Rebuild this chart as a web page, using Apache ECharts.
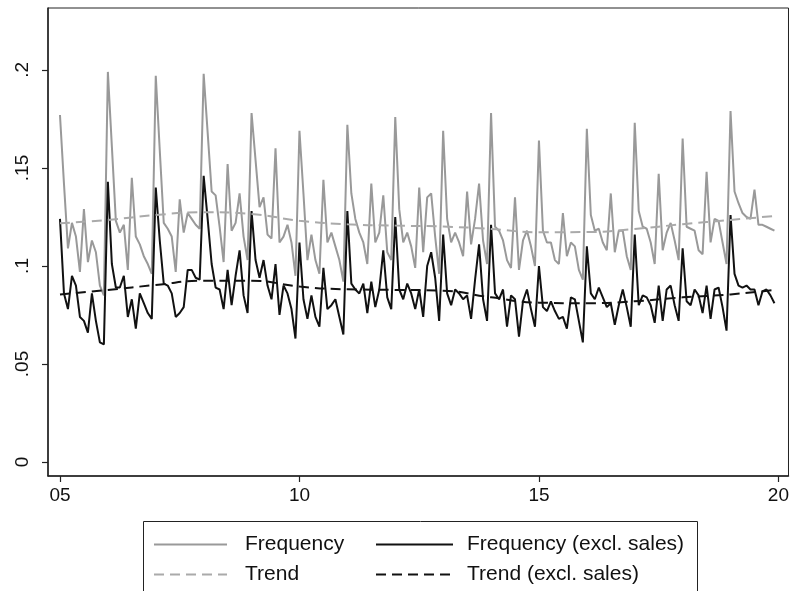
<!DOCTYPE html>
<html>
<head>
<meta charset="utf-8">
<script src="https://cdn.jsdelivr.net/npm/echarts@6/dist/echarts.min.js"></script>
<style>html,body{margin:0;padding:0;background:#fff}#c{width:792px;height:591px}</style>
</head>
<body>
<div id="c"></div>
<script>
// Monthly data, Jan 2005 .. Dec 2019
const startYear = 2005;
const frequency = [
0.177,0.142,0.109,0.122,0.115,0.097,0.129,0.102,0.113,0.107,0.090,0.085,
0.199,0.161,0.123,0.117,0.121,0.098,0.145,0.115,0.111,0.105,0.101,0.096,
0.197,0.159,0.122,0.119,0.115,0.097,0.134,0.117,0.127,0.124,0.121,0.119,
0.198,0.168,0.138,0.136,0.120,0.102,0.152,0.118,0.122,0.137,0.115,0.103,
0.178,0.154,0.130,0.135,0.116,0.114,0.160,0.112,0.115,0.121,0.112,0.095,
0.169,0.137,0.103,0.116,0.103,0.096,0.144,0.112,0.117,0.110,0.103,0.092,
0.172,0.137,0.124,0.117,0.112,0.101,0.142,0.112,0.117,0.136,0.107,0.103,
0.176,0.129,0.112,0.117,0.110,0.099,0.140,0.107,0.135,0.137,0.115,0.096,
0.169,0.124,0.112,0.117,0.112,0.105,0.138,0.111,0.124,0.142,0.113,0.101,
0.178,0.120,0.118,0.113,0.103,0.099,0.135,0.098,0.113,0.118,0.110,0.100,
0.164,0.118,0.112,0.112,0.103,0.101,0.127,0.105,0.112,0.110,0.098,0.093,
0.170,0.126,0.118,0.119,0.112,0.108,0.137,0.107,0.118,0.118,0.105,0.098,
0.173,0.128,0.120,0.119,0.112,0.101,0.147,0.108,0.117,0.122,0.113,0.103,
0.165,0.120,0.119,0.118,0.108,0.106,0.148,0.112,0.124,0.123,0.112,0.101,
0.179,0.138,0.132,0.127,0.125,0.124,0.139,0.121,0.121,0.120,0.119,0.118
];
const frequencyExSales = [
0.124,0.086,0.078,0.095,0.090,0.074,0.072,0.066,0.086,0.072,0.061,0.060,
0.143,0.101,0.089,0.089,0.095,0.074,0.083,0.068,0.086,0.081,0.076,0.073,
0.140,0.113,0.091,0.090,0.086,0.074,0.076,0.079,0.098,0.098,0.094,0.093,
0.146,0.124,0.101,0.089,0.088,0.078,0.098,0.080,0.095,0.108,0.085,0.076,
0.128,0.103,0.094,0.103,0.090,0.083,0.101,0.075,0.090,0.086,0.078,0.063,
0.112,0.083,0.073,0.085,0.074,0.069,0.099,0.078,0.080,0.083,0.074,0.065,
0.128,0.091,0.088,0.086,0.091,0.076,0.092,0.079,0.088,0.108,0.084,0.078,
0.125,0.088,0.083,0.091,0.086,0.078,0.088,0.074,0.100,0.107,0.094,0.072,
0.116,0.086,0.080,0.088,0.086,0.083,0.085,0.073,0.093,0.111,0.083,0.072,
0.121,0.086,0.083,0.088,0.069,0.085,0.083,0.064,0.082,0.088,0.078,0.069,
0.100,0.079,0.077,0.082,0.077,0.073,0.074,0.068,0.084,0.083,0.072,0.061,
0.110,0.086,0.083,0.089,0.084,0.079,0.081,0.070,0.080,0.088,0.079,0.069,
0.116,0.080,0.085,0.084,0.080,0.071,0.090,0.072,0.088,0.090,0.080,0.072,
0.109,0.082,0.080,0.088,0.085,0.076,0.090,0.073,0.088,0.089,0.079,0.067,
0.126,0.096,0.090,0.089,0.090,0.088,0.088,0.080,0.087,0.088,0.085,0.081
];
// Trend values read at month index (0 = Jan 2005)
const trendMonths = [0,12,24,36,48,60,72,84,96,108,120,132,144,156,168,179];
const trend = [0.1218,0.1235,0.1260,0.1274,0.1265,0.1231,0.1213,0.1206,0.1201,0.1189,0.1172,0.1173,0.1189,0.1213,0.1235,0.1255];
const trendExSales = [0.0855,0.0878,0.0903,0.0925,0.0925,0.0895,0.0881,0.0878,0.0874,0.0840,0.0813,0.0810,0.0820,0.0840,0.0855,0.0878];
const xTicks = [2005,2010,2015,2020];
const yTicks = [0,0.05,0.1,0.15,0.2];

const toX = i => startYear + i/12;
const pairs = arr => arr.map((v,i)=>[toX(i), v]);
const tpairs = arr => arr.map((v,k)=>[toX(trendMonths[k]), v]);

const FONT = 'Liberation Sans';
const legendText = {fontFamily:FONT, fontSize:21, lineHeight:20, color:'#111'};
const chart = echarts.init(document.getElementById('c'), null, {renderer:'canvas'});
chart.setOption({
  animation:false,
  backgroundColor:'#fff',
  grid:{left:48, right:2, top:8, bottom:115, show:true, borderColor:'#222', borderWidth:1, backgroundColor:'transparent'},
  xAxis:{
    type:'value', min:2004.75, max:2020.21,
    axisLine:{show:true, onZero:false, lineStyle:{color:'#222', width:1.5}},
    axisTick:{show:true, length:6, lineStyle:{color:'#222', width:1.2}, customValues:xTicks},
    axisLabel:{customValues:xTicks, margin:10, fontFamily:FONT, fontSize:19, color:'#111',
      formatter:v=>String(Math.round(v)).slice(2)},
    splitLine:{show:false}
  },
  yAxis:{
    type:'value', min:-0.00714, max:0.2316,
    axisLine:{show:true, onZero:false, lineStyle:{color:'#222', width:1.5}},
    axisTick:{show:true, length:6, lineStyle:{color:'#222', width:1.2}, customValues:yTicks},
    axisLabel:{customValues:yTicks, rotate:90, margin:16, fontFamily:FONT, fontSize:19, color:'#111',
      formatter:v=>{ if (Math.abs(v)<1e-9) return '0'; return String(+v.toFixed(2)).replace(/^0/,''); }},
    splitLine:{show:false}
  },
  legend:[
    {orient:'vertical', left:148, top:529, height:90, itemWidth:73, itemHeight:14, itemGap:9,
     itemStyle:{opacity:0},
     data:['Frequency','Trend'], textStyle:Object.assign({padding:[0,0,0,13]}, legendText), selectedMode:false},
    {orient:'vertical', left:370, top:529, height:90, itemWidth:77, itemHeight:14, itemGap:9,
     itemStyle:{opacity:0},
     data:['Frequency (excl. sales)','Trend (excl. sales)'], textStyle:Object.assign({padding:[0,0,0,9]}, legendText), selectedMode:false}
  ],
  graphic:[{type:'rect', shape:{x:143.5, y:521.5, width:554, height:90}, style:{fill:'none', stroke:'#222', lineWidth:1}, silent:true}],
  series:[
    {name:'Frequency', type:'line', data:pairs(frequency), showSymbol:false, symbol:'none',
     lineStyle:{color:'#999', width:2}, itemStyle:{color:'#999'}, z:2},
    {name:'Frequency (excl. sales)', type:'line', data:pairs(frequencyExSales), showSymbol:false, symbol:'none',
     lineStyle:{color:'#111', width:2}, itemStyle:{color:'#111'}, z:3},
    {name:'Trend', type:'line', data:tpairs(trend), smooth:true, showSymbol:false, symbol:'none',
     lineStyle:{color:'#aaa', width:2, type:[10,6]}, itemStyle:{color:'#aaa'}, z:4},
    {name:'Trend (excl. sales)', type:'line', data:tpairs(trendExSales), smooth:true, showSymbol:false, symbol:'none',
     lineStyle:{color:'#111', width:2, type:[10,6]}, itemStyle:{color:'#111'}, z:5}
  ]
});
</script>
</body>
</html>
